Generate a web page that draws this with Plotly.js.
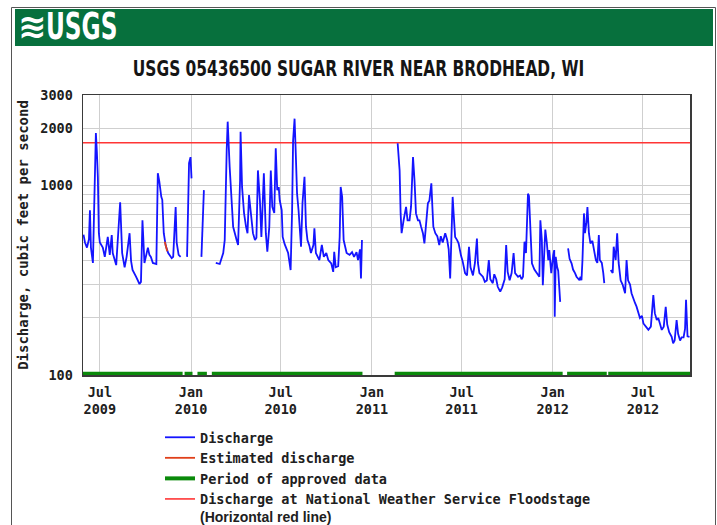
<!DOCTYPE html>
<html>
<head>
<meta charset="utf-8">
<script src="https://cdn.plot.ly/plotly-3.0.1.min.js"></script>
<style>
  html, body { margin: 0; padding: 0; background: #fff; }
  #chart { width: 717px; height: 525px; }
</style>
</head>
<body>
<div id="chart"></div>
<script>
// ---------------- DATA ----------------
const chartTitle = 'USGS 05436500 SUGAR RIVER NEAR BRODHEAD, WI';
const headerText = 'USGS';
const yAxisTitle = 'Discharge, cubic feet per second';

const dischargeDates = [
  '2009-05-29','2009-06-01','2009-06-05','2009-06-09','2009-06-11','2009-06-13','2009-06-17','2009-06-19','2009-06-21','2009-06-23',
  '2009-06-25','2009-06-27','2009-06-29','2009-07-01','2009-07-07','2009-07-11','2009-07-17','2009-07-21','2009-07-25','2009-07-27',
  '2009-08-03','2009-08-11','2009-08-15','2009-08-20','2009-08-24','2009-08-30','2009-09-02','2009-09-05','2009-09-12','2009-09-19',
  '2009-09-22','2009-09-25','2009-09-29','2009-10-06','2009-10-09','2009-10-12','2009-10-16','2009-10-23','2009-10-26','2009-10-29',
  '2009-11-02','2009-11-04','2009-11-07','2009-11-11','2009-11-16','2009-11-23','2009-11-26','2009-12-01','2009-12-03','2009-12-07',
  '2009-12-11','2009-12-17','2009-12-24','2009-12-28','2009-12-31','2010-01-02','2010-01-12','2010-01-22','2010-01-27','2010-02-08',
  '2010-02-20','2010-02-28','2010-03-07','2010-03-10','2010-03-14','2010-03-16','2010-03-20','2010-03-24','2010-03-27','2010-04-03',
  '2010-04-06','2010-04-10','2010-04-11','2010-04-14','2010-04-18','2010-04-22','2010-04-25','2010-04-28','2010-05-02','2010-05-06',
  '2010-05-10','2010-05-13','2010-05-16','2010-05-20','2010-05-23','2010-05-28','2010-06-01','2010-06-04','2010-06-08','2010-06-11',
  '2010-06-14','2010-06-18','2010-06-21','2010-06-24','2010-06-27','2010-06-29','2010-07-03','2010-07-05','2010-07-09','2010-07-16',
  '2010-07-21','2010-07-24','2010-07-26','2010-07-29','2010-07-31','2010-08-03','2010-08-06','2010-08-08','2010-08-11','2010-08-14',
  '2010-08-18','2010-08-21','2010-08-24','2010-08-28','2010-08-31','2010-09-05','2010-09-07','2010-09-10','2010-09-17','2010-09-22',
  '2010-09-26','2010-10-01','2010-10-05','2010-10-11','2010-10-15','2010-10-17','2010-10-20','2010-10-25','2010-10-28','2010-10-30',
  '2010-11-02','2010-11-05','2010-11-11','2010-11-17','2010-11-22','2010-11-26','2010-12-01','2010-12-04','2010-12-08','2010-12-10',
  '2010-12-12','2011-01-15','2011-02-22','2011-02-24','2011-02-26','2011-02-28','2011-03-02','2011-03-06','2011-03-11','2011-03-14',
  '2011-03-18','2011-03-21','2011-03-25','2011-03-28','2011-03-31','2011-04-04','2011-04-07','2011-04-10','2011-04-14','2011-04-17',
  '2011-04-20','2011-04-24','2011-04-27','2011-05-01','2011-05-03','2011-05-05','2011-05-09','2011-05-13','2011-05-17','2011-05-20',
  '2011-05-24','2011-05-29','2011-06-02','2011-06-05','2011-06-08','2011-06-10','2011-06-13','2011-06-15','2011-06-18','2011-06-22',
  '2011-06-25','2011-06-30','2011-07-03','2011-07-08','2011-07-12','2011-07-16','2011-07-19','2011-07-24','2011-07-28','2011-08-01',
  '2011-08-03','2011-08-06','2011-08-13','2011-08-17','2011-08-21','2011-08-25','2011-08-28','2011-09-02','2011-09-05','2011-09-09',
  '2011-09-12','2011-09-17','2011-09-21','2011-09-26','2011-09-29','2011-10-02','2011-10-06','2011-10-10','2011-10-14','2011-10-17',
  '2011-10-23','2011-10-27','2011-10-30','2011-11-02','2011-11-05','2011-11-08','2011-11-12','2011-11-14','2011-11-17','2011-11-20',
  '2011-11-25','2011-11-30','2011-12-05','2011-12-07','2011-12-10','2011-12-12','2011-12-15','2011-12-17','2011-12-20','2011-12-23',
  '2011-12-25','2011-12-29','2012-01-02','2012-01-04','2012-01-05','2012-01-07','2012-01-10','2012-01-12','2012-01-16','2012-01-24',
  '2012-02-01','2012-02-04','2012-02-08','2012-02-11','2012-02-15','2012-02-18','2012-02-24','2012-02-26','2012-02-28','2012-03-01',
  '2012-03-04','2012-03-06','2012-03-09','2012-03-11','2012-03-14','2012-03-17','2012-03-21','2012-03-25','2012-03-28','2012-03-31',
  '2012-04-03','2012-04-05','2012-04-09','2012-04-12','2012-04-14','2012-04-20','2012-04-27','2012-05-01','2012-05-03','2012-05-07',
  '2012-05-10','2012-05-13','2012-05-17','2012-05-21','2012-05-26','2012-05-29','2012-06-01','2012-06-05','2012-06-08','2012-06-12',
  '2012-06-15','2012-06-18','2012-06-22','2012-06-25','2012-06-29','2012-07-02','2012-07-07','2012-07-12','2012-07-17','2012-07-22',
  '2012-07-25','2012-07-29','2012-08-01','2012-08-04','2012-08-08','2012-08-12','2012-08-16','2012-08-19','2012-08-23','2012-08-28',
  '2012-08-31','2012-09-03','2012-09-07','2012-09-10','2012-09-14','2012-09-17','2012-09-21','2012-09-24','2012-09-26','2012-09-29','2012-10-03'
];
const dischargeCfs = [
  550,500,470,520,740,470,390,600,1100,1890,
  1500,1100,560,500,470,420,535,430,547,440,
  380,815,440,370,420,560,400,358,330,302,
  310,655,390,470,430,420,390,385,1160,1050,
  870,840,560,480,440,413,420,770,500,430,
  420,null,420,1310,1410,1090,null,420,945,null,
  390,385,440,515,1540,2170,1250,810,605,515,
  485,1065,1920,982,715,606,560,890,683,560,
  515,530,1200,835,535,1160,560,447,606,1200,
  770,715,1570,945,980,835,740,535,490,440,
  358,740,1730,2250,1590,905,740,606,475,810,
  1110,606,515,480,440,485,595,440,404,485,
  420,440,404,388,350,447,370,375,535,982,
  870,515,440,430,445,420,445,404,460,323,
  515,null,1670,1300,1200,712,560,655,770,655,
  655,770,1410,1065,712,655,655,610,560,495,
  600,805,830,1025,780,606,560,540,485,540,
  500,560,515,460,323,480,870,710,535,515,
  495,425,400,345,335,475,370,335,390,525,
  390,345,330,310,315,404,320,305,340,320,
  292,275,290,320,485,350,316,345,440,345,
  330,335,320,330,505,440,905,880,515,388,
  360,345,330,655,515,298,440,585,500,404,
  456,345,430,456,203,420,370,355,243,null,
  466,410,388,360,345,330,316,330,316,404,
  712,560,640,770,560,495,510,456,404,390,
  547,404,390,345,305,null,358,345,475,404,
  560,390,316,300,270,404,316,300,270,249,
  240,230,212,200,205,187,180,173,180,264,
  212,195,200,187,173,180,229,185,168,159,
  147,152,195,165,152,158,158,175,249,160,159
];

const estimatedDates = ['2009-11-09','2009-11-11','2009-11-14'];
const estimatedCfs = [505, 480, 450];

const approvedStart = ['2009-05-28','2009-12-19','2010-01-14','2010-02-12','2011-02-16','2012-01-30','2012-04-22'];
const approvedEnd   = ['2009-12-15','2010-01-04','2010-02-02','2010-12-13','2012-01-21','2012-04-19','2012-10-04'];
const approvedLevel = 101.5;

const floodDates = ['2009-05-28','2012-10-04'];
const floodCfs = [1680, 1680];

const xTickDates = ['2009-07-01','2010-01-01','2010-07-01','2011-01-01','2011-07-01','2012-01-01','2012-07-01'];
const xTickText = ['Jul<br>2009','Jan<br>2010','Jul<br>2010','Jan<br>2011','Jul<br>2011','Jan<br>2012','Jul<br>2012'];
const yTickVals = [100, 1000, 2000, 3000];
const yTickText = ['100','1000','2000','3000'];
const yMinorGrid = [200, 300, 400, 500, 600, 700, 800, 900];

const legendNames = [
  'Discharge',
  'Estimated discharge',
  'Period of approved data',
  'Discharge at National Weather Service Floodstage'
];
const legendNote = '(Horizontal red line)';

// ---------------- BUILD ----------------
const approvedX = [], approvedY = [];
approvedStart.forEach((s, i) => {
  approvedX.push(s, approvedEnd[i]);
  approvedY.push(approvedLevel, approvedLevel);
  if (i < approvedStart.length - 1) { approvedX.push(approvedEnd[i]); approvedY.push(null); }
});

// pixel -> paper helpers for decorations (plot area 83..690 x 95..375)
const PL = 83, PR = 690, PT = 95, PB = 375;
const px = x => (x - PL) / (PR - PL);
const py = y => (PB - y) / (PB - PT);

const mono = 'DejaVu Sans Mono, Liberation Mono, monospace';
const narrow = 'DejaVu Sans Condensed, Liberation Sans Narrow, Arial Narrow, sans-serif';

// condense the two narrow headline texts (the original uses a narrow bold face)
const css = document.createElement('style');
css.textContent =
  'text[data-unformatted="' + chartTitle + '"]{transform-box:fill-box;transform-origin:center;transform:scaleX(0.78);}' +
  'text[data-unformatted="' + headerText + '"]{transform-box:fill-box;transform-origin:left center;transform:scaleX(0.68);}';
document.head.appendChild(css);

const traces = [
  {
    x: approvedX, y: approvedY, type: 'scatter', mode: 'lines',
    name: legendNames[2], legendrank: 3,
    line: { color: '#0a8a0a', width: 4 }, connectgaps: false, hoverinfo: 'skip'
  },
  {
    x: floodDates, y: floodCfs, type: 'scatter', mode: 'lines',
    name: legendNames[3] + '<br><span style="font-family:Liberation Sans, Arial, sans-serif;font-size:14px">' + legendNote + '</span>',
    legendrank: 4,
    line: { color: '#ff3535', width: 1.6 }
  },
  {
    x: dischargeDates, y: dischargeCfs, type: 'scatter', mode: 'lines',
    name: legendNames[0], legendrank: 1,
    line: { color: '#1414ff', width: 1.8 }, connectgaps: false
  },
  {
    x: estimatedDates, y: estimatedCfs, type: 'scatter', mode: 'lines',
    name: legendNames[1], legendrank: 2,
    line: { color: '#e0401a', width: 1.8 }
  }
];

const layout = {
  width: 717, height: 525,
  margin: { l: PL, r: 717 - PR, t: PT, b: 525 - PB, autoexpand: false },
  paper_bgcolor: '#ffffff', plot_bgcolor: '#ffffff',
  showlegend: true,
  title: {
    text: chartTitle,
    font: { family: narrow, size: 22, weight: 'bold', color: '#151515' },
    xref: 'container', x: 0.5, xanchor: 'center',
    yref: 'container', y: 1 - 68 / 525, yanchor: 'middle'
  },
  xaxis: {
    type: 'date',
    range: ['2009-05-28', '2012-10-04'],
    tickmode: 'array', tickvals: xTickDates, ticktext: xTickText,
    showgrid: true, gridcolor: '#cfcfcf', gridwidth: 1,
    showline: true, linecolor: '#3a3a3a', linewidth: 1.5, mirror: true,
    ticks: '', zeroline: false, ticklabelstandoff: 4,
    tickfont: { family: mono, size: 13.5, weight: 'bold', color: '#202020' }
  },
  yaxis: {
    type: 'log',
    range: [2, Math.log10(3000)],
    tickmode: 'array', tickvals: yTickVals, ticktext: yTickText,
    showgrid: true, gridcolor: '#cfcfcf', gridwidth: 1,
    minor: { tickmode: 'array', tickvals: yMinorGrid, showgrid: true, gridcolor: '#cfcfcf', gridwidth: 1, ticks: '' },
    showline: true, linecolor: '#3a3a3a', linewidth: 1.5, mirror: true,
    ticks: '', zeroline: false, ticklabelstandoff: 6,
    tickfont: { family: mono, size: 13.5, weight: 'bold', color: '#202020' },
    title: { text: yAxisTitle, font: { family: mono, size: 14, weight: 'bold', color: '#202020' }, standoff: 8 }
  },
  legend: {
    x: px(160), y: py(422), xanchor: 'left', yanchor: 'top',
    font: { family: mono, size: 13.5, weight: 'bold', color: '#202020' },
    bgcolor: 'rgba(0,0,0,0)', borderwidth: 0,
    tracegroupgap: 0, valign: 'top', itemclick: false
  },
  shapes: [
    { type: 'rect', xref: 'paper', yref: 'paper', x0: px(11.5), x1: px(715.5), y0: py(540), y1: py(7.5),
      line: { color: '#555555', width: 1 }, fillcolor: 'rgba(0,0,0,0)', layer: 'below' },
    { type: 'rect', xref: 'paper', yref: 'paper', x0: px(15), x1: px(713), y0: py(46), y1: py(9),
      line: { width: 0 }, fillcolor: '#07703d', layer: 'below' }
  ],
  annotations: [
    { xref: 'paper', yref: 'paper', x: px(16), y: py(26), xanchor: 'left', yanchor: 'middle',
      text: '≋', showarrow: false,
      font: { family: 'DejaVu Sans, sans-serif', size: 34, weight: 'bold', color: '#ffffff' } },
    { xref: 'paper', yref: 'paper', x: px(44), y: py(26), xanchor: 'left', yanchor: 'middle',
      text: headerText, showarrow: false,
      font: { family: narrow, size: 38, weight: 'bold', color: '#ffffff' } }
  ]
};

Plotly.newPlot('chart', traces, layout, { staticPlot: true, displayModeBar: false });
</script>
</body>
</html>
